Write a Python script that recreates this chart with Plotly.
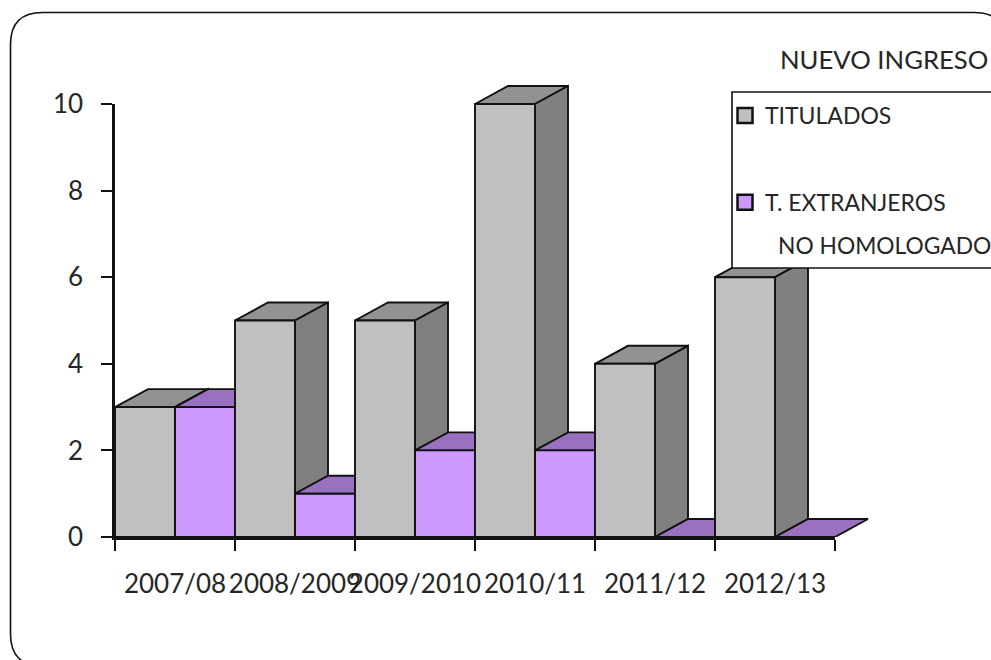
import plotly.graph_objects as go

categories = ["2007/08", "2008/2009", "2009/2010", "2010/11", "2011/12", "2012/13"]
titulados = [3, 5, 5, 10, 4, 6]
extranjeros = [3, 1, 2, 2, 0, 0]
y_ticks = [0, 2, 4, 6, 8, 10]

W, H = 991, 660
L, R, T, B = 115, 875, 80, 537   # plot area holding the 3D boxes
CAT_PX = 120
UNIT_PX = 43.3
DEPTH_X = 33 / CAT_PX        # depth of the 3D box, in category units
DEPTH_Y = 18 / UNIT_PX       # depth of the 3D box, in value units
BAR_W = 0.5
FONT = "Lato"
INK = "#262626"
EDGE = "#111111"
GREY = ("#C0C0C0", "#929292", "#808080")    # front, top, side
PURPLE = ("#CC99FF", "#9A70C0", "#7F5FA0")


def px(x):
    return (x - L) / (R - L)


def py(y):
    return (B - y) / (B - T)


def face(xs, ys, colour):
    return go.Scatter(
        x=xs + xs[:1], y=ys + ys[:1], mode="lines", fill="toself", fillcolor=colour,
        line=dict(color=EDGE, width=1.9), showlegend=False, hoverinfo="skip",
        xaxis="x", yaxis="y",
    )


def box(x0, v, colours):
    x1 = x0 + BAR_W
    front, top, side = colours
    out = [
        face([x0, x1, x1 + DEPTH_X, x0 + DEPTH_X], [v, v, v + DEPTH_Y, v + DEPTH_Y], top),
    ]
    if v > 0:
        out.append(face([x1, x1 + DEPTH_X, x1 + DEPTH_X, x1], [0, DEPTH_Y, v + DEPTH_Y, v], side))
        out.append(face([x0, x1, x1, x0], [0, 0, v, v], front))
    return out


fig = go.Figure()
for i in range(len(categories)):
    for t in box(i, titulados[i], GREY):
        fig.add_trace(t)
    for t in box(i + BAR_W, extranjeros[i], PURPLE):
        fig.add_trace(t)

for name, colour in (("TITULADOS", GREY[0]), ("T. EXTRANJEROS", PURPLE[0])):
    fig.add_trace(go.Scatter(
        x=[None], y=[None], mode="markers", name=name, legendgroup=name, xaxis="x2", yaxis="y2",
        marker=dict(symbol="square", size=15, color=colour, line=dict(color=EDGE, width=2.5)),
    ))

r = 32
xl, xr, yt, yb = 10.5, 1006, 12.5, 666
frame = (
    f"M {px(xl)} {py(yt + r)} Q {px(xl)} {py(yt)} {px(xl + r)} {py(yt)} "
    f"L {px(xr - r)} {py(yt)} Q {px(xr)} {py(yt)} {px(xr)} {py(yt + r)} "
    f"L {px(xr)} {py(yb - r)} Q {px(xr)} {py(yb)} {px(xr - r)} {py(yb)} "
    f"L {px(xl + r)} {py(yb)} Q {px(xl)} {py(yb)} {px(xl)} {py(yb - r)} Z"
)

n = len(categories)
max_v = y_ticks[-1]
fig.update_layout(
    width=W, height=H,
    margin=dict(l=L, r=W - R, t=T, b=H - B, autoexpand=False),
    paper_bgcolor="white", plot_bgcolor="rgba(0,0,0,0)",
    font=dict(family=FONT, size=26, color=INK),
    title=dict(text="NUEVO INGRESO", x=780 / W, xanchor="left", y=1 - 60 / H, yanchor="middle",
               font=dict(family=FONT, size=25.7, color=INK)),
    # hidden axes that carry the 3D faces (they need room past the last tick)
    xaxis=dict(domain=[0, 1], range=[0, (R - L) / CAT_PX], visible=False),
    yaxis=dict(domain=[0, 1], range=[0, (B - T) / UNIT_PX], visible=False),
    # visible axes: same scale, stop at the last tick
    xaxis2=dict(
        domain=[0, n * CAT_PX / (R - L)], range=[0, n], anchor="y2", showgrid=False, zeroline=False,
        showline=True, linecolor=EDGE, linewidth=2.5,
        tickmode="array", tickvals=[i + 0.5 for i in range(n)], ticktext=categories,
        ticks="", tickangle=0, ticklabelstandoff=22,
        minor=dict(tickmode="array", tickvals=list(range(n + 1)), ticks="outside", ticklen=11,
                   tickcolor=EDGE, tickwidth=1.5, showgrid=False),
    ),
    yaxis2=dict(
        domain=[0, max_v * UNIT_PX / (B - T)], range=[0, max_v], anchor="x2", showgrid=False, zeroline=False,
        showline=True, linecolor=EDGE, linewidth=2.5,
        tickmode="array", tickvals=y_ticks, ticks="outside", ticklen=11, tickcolor=EDGE,
        tickwidth=1.5, ticklabelstandoff=13,
    ),
    legend=dict(
        x=px(725), y=py(94), xanchor="left", yanchor="top", bgcolor="rgba(0,0,0,0)", borderwidth=0,
        tracegroupgap=54, font=dict(family=FONT, size=23, color=INK), itemclick=False, itemdoubleclick=False,
    ),
    shapes=[
        dict(type="path", path=frame, xref="paper", yref="paper", line=dict(color=EDGE, width=1.6),
             fillcolor="rgba(0,0,0,0)", layer="below"),
        dict(type="rect", xref="paper", yref="paper", x0=px(732), x1=px(1000), y0=py(268), y1=py(92),
             line=dict(color=EDGE, width=1.6), fillcolor="white", layer="above"),
    ],
    annotations=[
        dict(text="NO HOMOLOGADO", xref="paper", yref="paper", x=px(776), y=py(245), xanchor="left",
             yanchor="middle", showarrow=False, font=dict(family=FONT, size=22.8, color=INK)),
    ],
    showlegend=True,
)

fig.write_html("out.html", post_script="document.body.style.margin='0';",
               config={"displayModeBar": False})
